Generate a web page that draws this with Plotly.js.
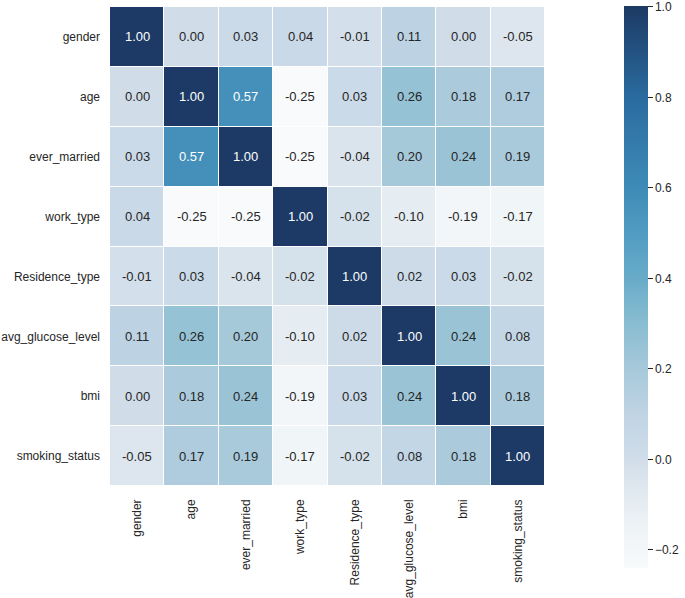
<!DOCTYPE html>
<html>
<head>
<meta charset="utf-8">
<script src="https://cdn.plot.ly/plotly-3.0.1.min.js"></script>
<style>body{margin:0;background:#fff}#chart{width:685px;height:598px}</style>
</head>
<body>
<div id="chart"></div>
<script>
var features = ["gender", "age", "ever_married", "work_type", "Residence_type", "avg_glucose_level", "bmi", "smoking_status"];

var gender          = [1.00, 0.00, 0.03, 0.04, -0.01, 0.11, 0.00, -0.05];
var age             = [0.00, 1.00, 0.57, -0.25, 0.03, 0.26, 0.18, 0.17];
var everMarried     = [0.03, 0.57, 1.00, -0.25, -0.04, 0.20, 0.24, 0.19];
var workType        = [0.04, -0.25, -0.25, 1.00, -0.02, -0.10, -0.19, -0.17];
var residenceType   = [-0.01, 0.03, -0.04, -0.02, 1.00, 0.02, 0.03, -0.02];
var avgGlucoseLevel = [0.11, 0.26, 0.20, -0.10, 0.02, 1.00, 0.24, 0.08];
var bmi             = [0.00, 0.18, 0.24, -0.19, 0.03, 0.24, 1.00, 0.18];
var smokingStatus   = [-0.05, 0.17, 0.19, -0.17, -0.02, 0.08, 0.18, 1.00];

var colorbarTicks = [-0.2, 0.0, 0.2, 0.4, 0.6, 0.8, 1.0];

var z = [gender, age, everMarried, workType, residenceType, avgGlucoseLevel, bmi, smokingStatus];

var zmin = -0.24, zmax = 1.002;
function pos(v) { return Math.min(1, Math.max(0, (v - zmin) / (zmax - zmin))); }
var stops = [
  [-0.24, "#f8fafb"], [-0.15, "#eef3f6"], [-0.05, "#dde6ee"], [0.0, "#d0dde9"],
  [0.1, "#c0d4e4"], [0.2, "#a6c9da"], [0.3, "#89bdd1"], [0.4, "#68abc9"],
  [0.5, "#519cc2"], [0.6, "#3e8bb7"], [0.8, "#2a6b9f"], [1.002, "#1c3a64"]
];
var colorscale = stops.map(function (s) { return [pos(s[0]), s[1]]; });

var font = "Liberation Sans, Arial, sans-serif";

var annotations = [];
z.forEach(function (row, i) {
  row.forEach(function (v, j) {
    annotations.push({
      x: features[j], y: features[i], xref: "x", yref: "y",
      text: v.toFixed(2), showarrow: false,
      font: { family: font, size: 13, color: v > 0.45 ? "#ffffff" : "#262626" }
    });
  });
});

var data = [{
  type: "heatmap",
  x: features, y: features, z: z,
  zmin: zmin, zmax: zmax,
  colorscale: colorscale,
  xgap: 1, ygap: 1,
  hoverinfo: "none",
  colorbar: {
    thickness: 24, lenmode: "pixels", len: 562,
    x: 1.181, xanchor: "left", xpad: 0,
    y: 1 + 1 / 480, yanchor: "top", ypad: 0,
    outlinewidth: 0,
    tickvals: colorbarTicks, tickformat: ".1f",
    ticks: "outside", ticklen: 5, tickwidth: 1, tickcolor: "#262626",
    tickfont: { family: font, size: 12, color: "#262626" }
  }
}];

var layout = {
  width: 685, height: 598,
  margin: { l: 110, r: 138, t: 6, b: 112 },
  paper_bgcolor: "#ffffff", plot_bgcolor: "#ffffff",
  xaxis: {
    tickangle: -90, showgrid: false, zeroline: false, ticks: "",
    ticklabelstandoff: 10,
    tickfont: { family: font, size: 12, color: "#262626" }
  },
  yaxis: {
    autorange: "reversed", showgrid: false, zeroline: false, ticks: "",
    ticklabelstandoff: 9,
    tickfont: { family: font, size: 12, color: "#262626" }
  },
  annotations: annotations
};

Plotly.newPlot("chart", data, layout, { displayModeBar: false, responsive: false });
</script>
</body>
</html>
